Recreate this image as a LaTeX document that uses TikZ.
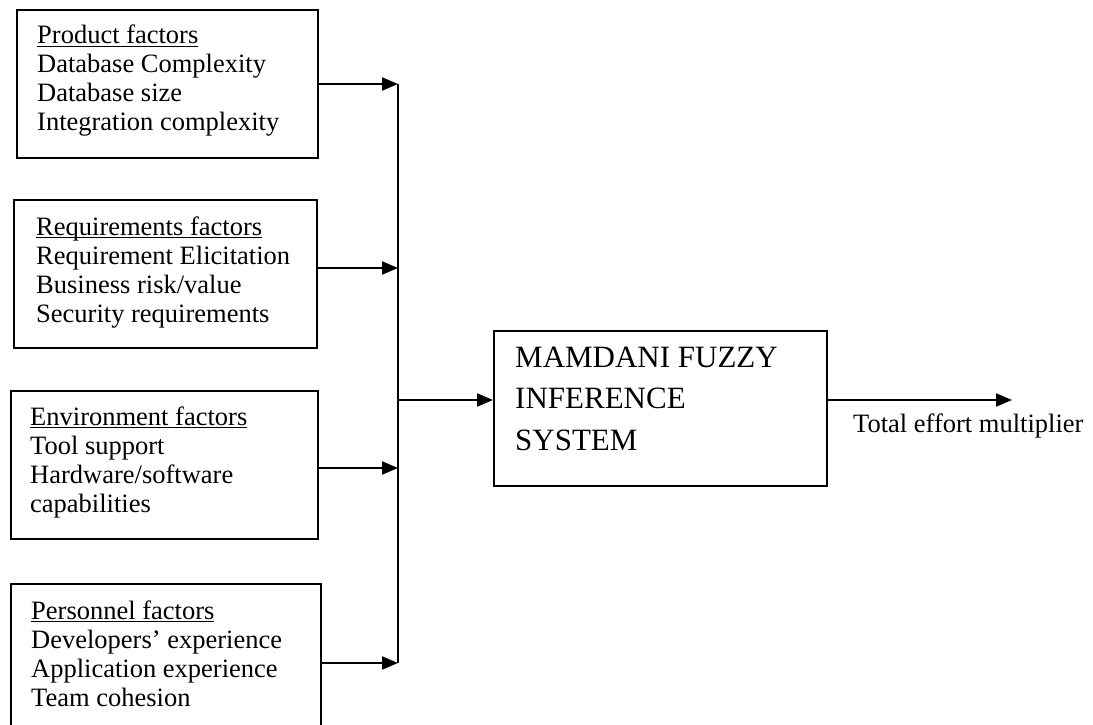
\documentclass[tikz,border=0pt]{standalone}
\usepackage{fontspec}
\setmainfont{Liberation Serif}
\usetikzlibrary{arrows.meta}

% underline at a fixed offset below the baseline
\newcommand\headline[1]{\leavevmode\setbox0\hbox{#1}\rlap{\rule[-3pt]{\wd0}{1.4pt}}\box0}

\tikzset{
  factorbox/.style={draw, line width=2pt, rectangle, inner sep=0pt, anchor=north west},
  factortext/.style={inner sep=0pt, anchor=base west, font=\fontsize{26.5}{29}\selectfont},
  flow/.style={line width=2.2pt, -{Triangle[length=16pt,width=13pt]}},
  bus/.style={line width=2.2pt},
}

\begin{document}
\begin{tikzpicture}[x=1pt, y=-1pt]
  \useasboundingbox (0,0) rectangle (1093,725);
  \clip (0,0) rectangle (1093,725);

  % factor groups
  \node[factorbox, minimum width=301pt, minimum height=148pt] (prod) at (16,9) {};
  \node[factortext] (prodtxt) at (37,44) {\parbox[t]{280pt}{\headline{Product factors}\\
    Database Complexity\\Database size\\Integration complexity}};

  \node[factorbox, minimum width=303pt, minimum height=148pt] (req) at (13,199) {};
  \node[factortext] (reqtxt) at (36,235) {\parbox[t]{280pt}{\headline{Requirements factors}\\
    Requirement Elicitation\\Business risk/value\\Security requirements}};

  \node[factorbox, minimum width=307pt, minimum height=148pt] (env) at (10,390) {};
  \node[factortext] (envtxt) at (30,425) {\parbox[t]{280pt}{\headline{Environment factors}\\
    Tool support\\Hardware/software\\capabilities}};

  \node[factorbox, minimum width=310pt, minimum height=170pt] (pers) at (10,583) {};
  \node[factortext] (perstxt) at (31,619) {\parbox[t]{280pt}{\headline{Personnel factors}\\
    Developers’ experience\\Application experience\\Team cohesion}};

  % inference system
  \node[factorbox, minimum width=333pt, minimum height=155pt] (fis) at (493,330) {};
  \node[inner sep=0pt, anchor=base west] (fistxt) at (515,367)
    {\parbox[t]{300pt}{\fontsize{31}{41.5}\selectfont MAMDANI FUZZY\\INFERENCE\\SYSTEM}};

  % collecting bus
  \coordinate (j1) at (398,84);
  \coordinate (j2) at (398,268);
  \coordinate (j3) at (398,468);
  \coordinate (j4) at (398,663);
  \coordinate (jm) at (398,400);
  \coordinate (out) at (1012,400);

  \draw[flow] (prod.east |- j1) -- (j1);
  \draw[flow] (req.east |- j2) -- (j2);
  \draw[flow] (env.east |- j3) -- (j3);
  \draw[flow] (pers.east |- j4) -- (j4);
  \draw[bus] (j1) -- (j4);
  \draw[flow] (jm) -- (fis.west |- jm);
  \draw[flow] (fis.east |- jm) -- (out);

  \node[inner sep=0pt, anchor=base west, font=\fontsize{26.5}{29}\selectfont] (outlbl) at (853,432)
    {Total effort multiplier};
\end{tikzpicture}
\end{document}
